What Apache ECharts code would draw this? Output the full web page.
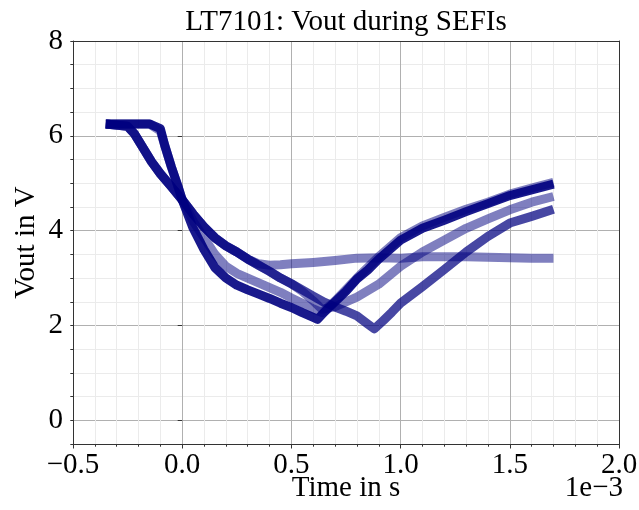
<!doctype html>
<html lang="en">
<head>
  <meta charset="utf-8">
  <title>LT7101: Vout during SEFIs</title>
  <script src="https://cdn.jsdelivr.net/npm/echarts@6/dist/echarts.min.js"></script>
  <style>
    html, body { margin: 0; padding: 0; background: #fff; }
    #chart { width: 639px; height: 510px; }
  </style>
</head>
<body>
  <div id="chart"></div>
  <script>
    // time in units of 1e-3 s, voltage in V
    var tA = [-0.35, -0.25, -0.15, -0.10, -0.08, -0.05, -0.02, 0.0, 0.05, 0.10, 0.15, 0.20, 0.25, 0.30, 0.35, 0.40, 0.45, 0.50, 0.55, 0.60, 0.62, 0.65, 0.70, 0.75, 0.80, 0.85, 0.90, 0.95, 1.0, 1.1, 1.2, 1.3, 1.4, 1.5, 1.6, 1.7];
    var vA = [6.25, 6.25, 6.25, 6.15, 5.8, 5.35, 4.95, 4.65, 4.05, 3.6, 3.22, 3.0, 2.85, 2.75, 2.66, 2.57, 2.47, 2.38, 2.27, 2.17, 2.13, 2.28, 2.5, 2.72, 2.98, 3.17, 3.4, 3.6, 3.8, 4.05, 4.22, 4.4, 4.57, 4.74, 4.86, 4.98];

    var tB = [-0.35, -0.15, -0.10, -0.05, 0.0, 0.05, 0.10, 0.15, 0.20, 0.25, 0.30, 0.35, 0.40, 0.45, 0.50, 0.55, 0.60, 0.64, 0.70, 0.80, 0.90, 1.0, 1.1, 1.2, 1.3, 1.4, 1.5, 1.6, 1.7];
    var vB = [6.25, 6.25, 6.1, 5.35, 4.65, 4.2, 3.85, 3.5, 3.25, 3.1, 3.0, 2.9, 2.8, 2.7, 2.58, 2.47, 2.35, 2.27, 2.52, 3.0, 3.45, 3.85, 4.1, 4.28, 4.45, 4.6, 4.77, 4.9, 5.02];

    var tC = [-0.35, -0.25, -0.22, -0.18, -0.14, -0.10, -0.05, 0.0, 0.05, 0.10, 0.15, 0.20, 0.25, 0.30, 0.35, 0.40, 0.45, 0.50, 0.60, 0.70, 0.80, 0.90, 1.0, 1.1, 1.2, 1.3, 1.4, 1.5, 1.6, 1.7];
    var vC = [6.25, 6.2, 6.05, 5.75, 5.45, 5.2, 4.93, 4.65, 4.35, 4.08, 3.85, 3.68, 3.55, 3.4, 3.3, 3.27, 3.28, 3.3, 3.33, 3.37, 3.42, 3.43, 3.42, 3.45, 3.45, 3.45, 3.44, 3.43, 3.42, 3.42];

    var tD = [-0.35, -0.25, -0.22, -0.18, -0.14, -0.10, -0.05, 0.0, 0.05, 0.10, 0.15, 0.20, 0.25, 0.30, 0.35, 0.40, 0.45, 0.50, 0.55, 0.60, 0.65, 0.70, 0.75, 0.80, 0.85, 0.88, 0.92, 0.96, 1.0, 1.1, 1.2, 1.3, 1.4, 1.5, 1.6, 1.7];
    var vD = [6.25, 6.2, 6.05, 5.75, 5.45, 5.2, 4.93, 4.65, 4.35, 4.08, 3.85, 3.68, 3.55, 3.4, 3.27, 3.14, 3.0, 2.88, 2.75, 2.62, 2.49, 2.39, 2.3, 2.2, 2.03, 1.93, 2.1, 2.28, 2.47, 2.82, 3.18, 3.55, 3.88, 4.16, 4.3, 4.45];

    var tE = [-0.35, -0.25, -0.22, -0.18, -0.14, -0.10, -0.05, 0.0, 0.05, 0.10, 0.15, 0.20, 0.25, 0.30, 0.35, 0.40, 0.45, 0.50, 0.55, 0.60, 0.64, 0.70, 0.80, 0.90, 1.0, 1.1, 1.2, 1.3, 1.4, 1.5, 1.6, 1.7];
    var vE = [6.25, 6.2, 6.05, 5.75, 5.45, 5.2, 4.93, 4.65, 4.35, 4.08, 3.85, 3.68, 3.55, 3.4, 3.27, 3.14, 3.0, 2.88, 2.72, 2.52, 2.34, 2.4, 2.6, 2.87, 3.25, 3.55, 3.8, 4.05, 4.25, 4.44, 4.6, 4.72];

    var yLabels = [0, 2, 4, 6, 8];

    function pairs(t, v) {
      return t.map(function (x, i) { return [x, v[i]]; });
    }

    var serif = 'Liberation Serif';
    var axisColor = '#333';

    function trace(name, t, v, opacity) {
      return {
        name: name,
        type: 'line',
        data: pairs(t, v),
        showSymbol: false,
        symbol: 'none',
        silent: true,
        lineStyle: { color: '#000080', width: 9, opacity: opacity, join: 'round' }
      };
    }

    var chart = echarts.init(document.getElementById('chart'), null, { renderer: 'canvas' });

    var option = {
      animation: false,
      backgroundColor: '#fff',
      title: {
        text: 'LT7101: Vout during SEFIs',
        left: 346,
        top: 8,
        padding: 0,
        textAlign: 'center',
        textStyle: { fontFamily: serif, fontSize: 29, fontWeight: 'normal', color: '#000' }
      },
      graphic: [{
        type: 'text',
        x: 623,
        y: 488,
        style: {
          text: '1e\u22123',
          font: '29px "Liberation Serif"',
          fill: '#000',
          textAlign: 'right',
          textVerticalAlign: 'middle'
        }
      }],
      grid: { left: 73, right: 20, top: 41, bottom: 66, outerBoundsMode: 'none' },
      xAxis: [{
        type: 'value',
        min: -0.5,
        max: 2.0,
        interval: 0.5,
        position: 'bottom',
        name: 'Time in s',
        nameLocation: 'middle',
        nameGap: 30,
        nameMoveOverlap: false,
        nameTextStyle: { fontFamily: serif, fontSize: 29, color: '#000' },
        axisLine: { show: true, onZero: false, lineStyle: { color: axisColor, width: 1 } },
        axisTick: { show: true, length: 4.5, lineStyle: { color: axisColor } },
        minorTick: { show: true, splitNumber: 5, length: 2.7, lineStyle: { color: axisColor } },
        axisLabel: {
          fontFamily: serif, fontSize: 29, color: '#000', margin: 7,
          formatter: function (v) { return v.toFixed(1).replace('-', '\u2212'); }
        },
        splitLine: { show: true, showMinLine: false, showMaxLine: false, lineStyle: { color: '#b0b0b0', width: 1 } },
        minorSplitLine: { show: true, lineStyle: { color: '#ebebeb', width: 1 } }
      }, {
        type: 'value',
        min: -0.5,
        max: 2.0,
        interval: 0.5,
        position: 'top',
        axisLine: { show: true, onZero: false, lineStyle: { color: axisColor, width: 1 } },
        axisTick: { show: false },
        axisLabel: { show: false },
        splitLine: { show: false }
      }],
      yAxis: [{
        type: 'value',
        min: -0.5,
        max: 8,
        interval: 0.5,
        position: 'left',
        name: 'Vout in V',
        nameLocation: 'middle',
        nameGap: 32,
        nameMoveOverlap: false,
        nameTextStyle: { fontFamily: serif, fontSize: 29, color: '#000' },
        axisLine: { show: true, onZero: false, lineStyle: { color: axisColor, width: 1 } },
        axisTick: { show: true, length: 2.7, lineStyle: { color: axisColor } },
        axisLabel: {
          fontFamily: serif, fontSize: 29, color: '#000', margin: 10,
          formatter: function (v) { return yLabels.indexOf(v) >= 0 ? String(v) : ''; }
        },
        splitLine: {
          show: true, showMinLine: false, showMaxLine: false,
          lineStyle: { color: ['#b0b0b0', '#ebebeb', '#ebebeb', '#ebebeb'], width: 1 }
        }
      }, {
        type: 'value',
        min: -0.5,
        max: 8,
        interval: 0.5,
        position: 'right',
        axisLine: { show: true, onZero: false, lineStyle: { color: axisColor, width: 1 } },
        axisTick: { show: false },
        axisLabel: { show: false },
        splitLine: { show: false }
      }, {
        type: 'value',
        min: -0.5,
        max: 8,
        interval: 0.5,
        position: 'left',
        axisLine: { show: false },
        axisTick: { show: true, length: 4.5, customValues: yLabels, lineStyle: { color: axisColor } },
        axisLabel: { show: false },
        splitLine: { show: false }
      }],
      series: [
        trace('C', tC, vC, 0.5),
        trace('E', tE, vE, 0.5),
        trace('D', tD, vD, 0.72),
        trace('B', tB, vB, 0.5),
        trace('A', tA, vA, 0.9)
      ]
    };

    chart.setOption(option);
  </script>
</body>
</html>
